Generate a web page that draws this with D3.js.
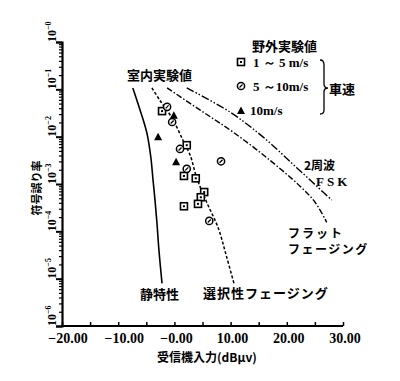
<!DOCTYPE html>
<html><head><meta charset="utf-8">
<script src="https://cdn.jsdelivr.net/npm/d3@7/dist/d3.min.js"></script>
<style>
body{margin:0;background:#fff;}
text{fill:#000;}
.jp{font-family:"Noto Sans CJK JP",sans-serif;font-weight:bold;}
.num{font-family:"Liberation Serif",serif;font-weight:bold;}
</style></head>
<body><svg id="c" width="400" height="381"></svg>
<script>
// ---- data ----
const xTicks = [-20, -10, 0, 10, 20, 30];
const xTickLabels = ["−20.00", "−10.00", "−0.00", "10.00", "20.00", "30.00"];
const yDecades = [0, -1, -2, -3, -4, -5, -6];
const yDecadeLabels = ["−0", "−1", "−2", "−3", "−4", "−5", "−6"];

// curves: [x (dBμV), log10(BER)]
const staticCurve = [[-7.4,-0.97],[-6.1,-1.44],[-4.9,-1.92],[-4.2,-2.43],[-3.8,-2.92],[-3.45,-3.34],[-3.1,-3.83],[-2.75,-4.40],[-2.2,-5.10]];
const selectiveCurve = [[-4.0,-0.97],[-2.6,-1.23],[-0.4,-1.61],[1.5,-2.07],[2.8,-2.39],[4.0,-2.88],[5.8,-3.40],[7.8,-3.93],[9.2,-4.50],[10.6,-5.10]];
const flatCurve = [[-1.3,-0.97],[4.6,-1.44],[10.4,-1.90],[16.5,-2.45],[22.3,-3.04],[25.0,-3.38],[27.1,-3.81]];
const fskCurve = [[2.2,-0.97],[9.9,-1.48],[15.8,-2.01],[21.8,-2.66],[28.0,-3.34]];

// field measurements
const speed1to5 = [[-2.2,-1.46],[2.2,-2.18],[1.7,-2.83],[3.8,-2.88],[5.3,-3.17],[4.7,-3.28],[1.7,-3.47],[4.2,-3.42]];
const speed5to10 = [[-1.3,-1.37],[-0.4,-1.69],[1.0,-2.26],[2.2,-2.68],[8.3,-2.52],[6.2,-3.78]];
const speed10 = [[-0.1,-1.56],[-2.9,-2.01],[0.3,-2.54]];

// ---- chart ----
const svg = d3.select("#c");
const x = d3.scaleLinear().domain([-20, 30]).range([62, 343]);
const y = d3.scaleLog().domain([1, 1e-6]).range([42, 326]);
const Y = l => y(Math.pow(10, l));

// y axis
const minor = [];
for (let e = -6; e < 0; e++) for (let m = 2; m <= 9; m++) minor.push(m * Math.pow(10, e));
const yAxisMinor = d3.axisLeft(y).tickValues(minor).tickSize(3).tickFormat("");
const yAxisMajor = d3.axisLeft(y).tickValues(yDecades.map(d => Math.pow(10, d))).tickSize(6).tickFormat("");
svg.append("g").attr("transform","translate(62,0)").call(yAxisMinor)
  .call(g => g.select(".domain").remove()).selectAll("line").attr("stroke","#000").attr("stroke-width",1.2);
svg.append("g").attr("transform","translate(62,0)").call(yAxisMajor)
  .call(g => g.select(".domain").attr("stroke","#000").attr("stroke-width",2.2))
  .selectAll("line").attr("stroke","#000").attr("stroke-width",2);

yDecades.forEach((d, i) => {
  const t = svg.append("text").attr("class","num").attr("font-size",12)
    .attr("transform", `translate(56,${Y(d)}) rotate(-90)`).attr("text-anchor","start");
  t.append("tspan").text("10");
  t.append("tspan").attr("font-size",8).attr("dy",-5).text(yDecadeLabels[i]);
});

// x axis
const xAxis = d3.axisTop(x).tickValues(d3.range(-20, 31, 5)).tickSize(4).tickFormat("");
svg.append("g").attr("transform","translate(0,326)").call(xAxis)
  .call(g => g.select(".domain").attr("stroke","#000").attr("stroke-width",2.2).attr("d","M62,0H343"))
  .selectAll("line").attr("stroke","#000").attr("stroke-width",1.5);
xTicks.forEach((d, i) => {
  svg.append("text").attr("class","num").attr("font-size",14)
    .attr("x", x(d) + (d < 0 ? 6 : 2)).attr("y", 343)
    .attr("text-anchor","middle").text(xTickLabels[i]);
});

// axis titles
svg.append("text").attr("class","jp").attr("font-size",12).attr("x",157).attr("y",362).text("受信機入力(dBμv)");
svg.append("text").attr("class","jp").attr("font-size",11)
  .attr("transform","translate(41,188) rotate(-90)").attr("text-anchor","middle").text("符号誤り率");

// curves
const lineY = d3.line().x(d => x(d[0])).y(d => Y(d[1])).curve(d3.curveCatmullRom);
svg.append("path").attr("d", lineY(staticCurve)).attr("fill","none").attr("stroke","#000").attr("stroke-width",1.6);
svg.append("path").attr("d", lineY(selectiveCurve)).attr("fill","none").attr("stroke","#000").attr("stroke-width",1.5).attr("stroke-dasharray","3,2");
svg.append("path").attr("d", lineY(flatCurve)).attr("fill","none").attr("stroke","#000").attr("stroke-width",1.4).attr("stroke-dasharray","6,2,1.5,2");
svg.append("path").attr("d", lineY(fskCurve)).attr("fill","none").attr("stroke","#000").attr("stroke-width",1.4).attr("stroke-dasharray","8,2,1.5,2,1.5,2");

// markers
function square(g, cx, cy) {
  g.append("rect").attr("x",cx-3.5).attr("y",cy-3.5).attr("width",7).attr("height",7)
    .attr("fill","#fff").attr("stroke","#000").attr("stroke-width",1.6);
  g.append("rect").attr("x",cx-1).attr("y",cy-1).attr("width",2).attr("height",2).attr("fill","#000");
}
function circle(g, cx, cy) {
  g.append("circle").attr("cx",cx).attr("cy",cy).attr("r",3.6)
    .attr("fill","#fff").attr("stroke","#000").attr("stroke-width",1.5);
  g.append("line").attr("x1",cx-1.5).attr("y1",cy+1.5).attr("x2",cx+1.5).attr("y2",cy-1.5)
    .attr("stroke","#000").attr("stroke-width",1.3);
}
function tri(g, cx, cy) {
  g.append("path").attr("d",`M${cx},${cy-4.5}L${cx+4},${cy+3}L${cx-4},${cy+3}Z`).attr("fill","#000");
}
const mk = svg.append("g");
speed1to5.forEach(d => square(mk, x(d[0]), Y(d[1])));
speed5to10.forEach(d => circle(mk, x(d[0]), Y(d[1])));
speed10.forEach(d => tri(mk, x(d[0]), Y(d[1])));

// legend
const lg = svg.append("g");
lg.append("text").attr("class","jp").attr("font-size",13).attr("x",252).attr("y",51).text("野外実験値");
square(lg, 241, 62); circle(lg, 241, 86); tri(lg, 241, 111);
lg.append("text").attr("class","num").attr("font-size",13).attr("x",253).attr("y",67).text("1 ～ 5 m/s");
lg.append("text").attr("class","num").attr("font-size",13).attr("x",253).attr("y",91).text("5 ～10m/s");
lg.append("text").attr("class","num").attr("font-size",13).attr("x",250).attr("y",115).text("10m/s");
lg.append("path").attr("d","M320,60 Q324,60 324,65 L324,84 Q324,88 328,88 Q324,88 324,92 L324,110 Q324,114 320,114")
  .attr("fill","none").attr("stroke","#000").attr("stroke-width",1.3);
lg.append("text").attr("class","jp").attr("font-size",13).attr("x",329).attr("y",94).text("車速");

// labels
svg.append("text").attr("class","jp").attr("font-size",13).attr("x",127).attr("y",80).text("室内実験値");
svg.append("text").attr("class","jp").attr("font-size",12).attr("x",304).attr("y",170).text("2周波");
svg.append("text").attr("class","num").attr("font-size",13).attr("x",316).attr("y",186).attr("letter-spacing",3).text("FSK");
svg.append("text").attr("class","jp").attr("font-size",12).attr("x",288).attr("y",238).attr("letter-spacing",2).text("フラット");
svg.append("text").attr("class","jp").attr("font-size",12).attr("x",288).attr("y",254).attr("letter-spacing",1.5).text("フェージング");
svg.append("text").attr("class","jp").attr("font-size",13).attr("x",203).attr("y",298).attr("letter-spacing",1).text("選択性フェージング");
svg.append("text").attr("class","jp").attr("font-size",13).attr("x",140).attr("y",299).text("静特性");
</script></body></html>
